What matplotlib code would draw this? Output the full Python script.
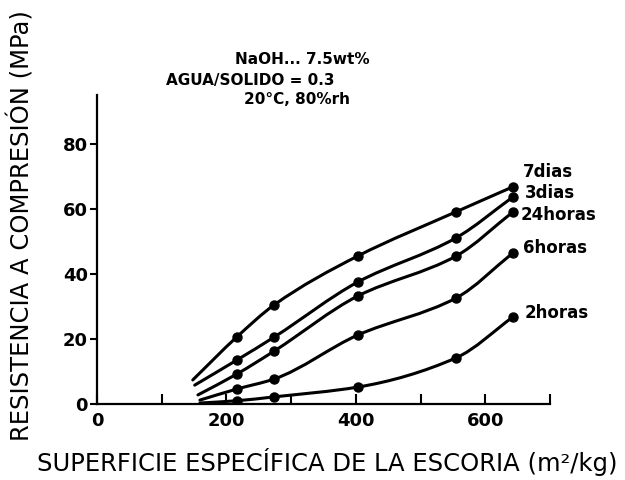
import matplotlib
matplotlib.use("Agg")
import matplotlib.pyplot as plt
from matplotlib.path import Path
from matplotlib.patches import PathPatch

# superficie especifica de la escoria (m2/kg) for the measured points
superficie = [216, 274, 403, 555, 643]

# resistencia a compresion (MPa)
r_7dias = [20.6, 30.5, 45.5, 59.1, 66.8]
r_3dias = [13.5, 20.6, 37.5, 51.1, 63.7]
r_24horas = [9.2, 16.3, 33.2, 45.5, 59.1]
r_6horas = [4.6, 7.7, 21.2, 32.6, 46.5]
r_2horas = [1.0, 2.2, 5.2, 14.2, 26.8]

# where each hand drawn curve starts (no point drawn there)
inicio_x = [148, 151, 156, 159, 159]
inicio_y = [7.4, 5.8, 2.8, 1.2, 0.3]

series = [r_7dias, r_3dias, r_24horas, r_6horas, r_2horas]
nombres = ["7dias", "3dias", "24horas", "6horas", "2horas"]
# label anchor (data units) for each curve
nombre_x = [658, 661, 654, 658, 661]
nombre_y = [71.4, 64.9, 58.2, 48.0, 28.0]


def curva(xs, ys):
    '''smooth path through the points, monotone cubic (no overshoot) as bezier'''
    n = len(xs)
    h = [xs[i + 1] - xs[i] for i in range(n - 1)]
    d = [(ys[i + 1] - ys[i]) / h[i] for i in range(n - 1)]
    m = [d[0]]
    for i in range(1, n - 1):
        if d[i - 1] * d[i] <= 0:
            m.append(0.0)
        else:
            w1 = 2 * h[i] + h[i - 1]
            w2 = h[i] + 2 * h[i - 1]
            m.append((w1 + w2) / (w1 / d[i - 1] + w2 / d[i]))
    m.append(d[-1])
    verts = [(xs[0], ys[0])]
    codes = [Path.MOVETO]
    for i in range(n - 1):
        verts += [(xs[i] + h[i] / 3, ys[i] + m[i] * h[i] / 3),
                  (xs[i + 1] - h[i] / 3, ys[i + 1] - m[i + 1] * h[i] / 3),
                  (xs[i + 1], ys[i + 1])]
        codes += [Path.CURVE4, Path.CURVE4, Path.CURVE4]
    return Path(verts, codes)


plt.rcParams['font.family'] = ['DejaVu Sans']

fig = plt.figure(figsize=(6.25, 4.8), dpi=100)
ax = fig.add_axes([97 / 625, 1 - 404 / 480, 453 / 625, 309 / 480])

for i, ys in enumerate(series):
    xs = [inicio_x[i]] + superficie
    yy = [inicio_y[i]] + ys
    ax.add_patch(PathPatch(curva(xs, yy), facecolor='none', edgecolor='black',
                           lw=2.2, capstyle='round', joinstyle='round'))
    ax.plot(superficie, ys, 'o', color='black', markersize=6.5)
    ax.text(nombre_x[i], nombre_y[i], nombres[i], fontsize=12,
            fontweight='bold', ha='left', va='center')

ax.set_xlim(0, 700)
ax.set_ylim(0, 95)

ax.spines['top'].set_visible(False)
ax.spines['right'].set_visible(False)
ax.spines['left'].set_linewidth(1.6)
ax.spines['bottom'].set_linewidth(1.6)

ax.set_xticks(range(0, 701, 100))
ax.set_xticklabels(["0", "", "200", "", "400", "", "600", ""])
ax.set_yticks(range(0, 81, 20))
ax.tick_params(axis='x', direction='in', length=7, width=1.5, pad=6,
               labelsize=13)
ax.tick_params(axis='y', direction='out', length=5, width=1.5, pad=1.5,
               labelsize=13)
for lab in ax.get_xticklabels() + ax.get_yticklabels():
    lab.set_fontweight('bold')

# condiciones del ensayo
fig.text(302 / 625, 1 - 60 / 480, "NaOH... 7.5wt%", fontsize=11,
         fontweight='bold', ha='center', va='center')
fig.text(250 / 625, 1 - 80 / 480, "AGUA/SOLIDO = 0.3", fontsize=11,
         fontweight='bold', ha='center', va='center')
fig.text(297 / 625, 1 - 100 / 480, "20°C, 80%rh", fontsize=11,
         fontweight='bold', ha='center', va='center')

fig.text(327 / 625, 1 - 462 / 480, "SUPERFICIE ESPECÍFICA DE LA ESCORIA (m²/kg)",
         fontsize=17.5, ha='center', va='center')
fig.text(21 / 625, 1 - 226 / 480, "RESISTENCIA A COMPRESIÓN (MPa)",
         fontsize=17.5, ha='center', va='center', rotation=90)

plt.savefig("out.png", dpi=100)
